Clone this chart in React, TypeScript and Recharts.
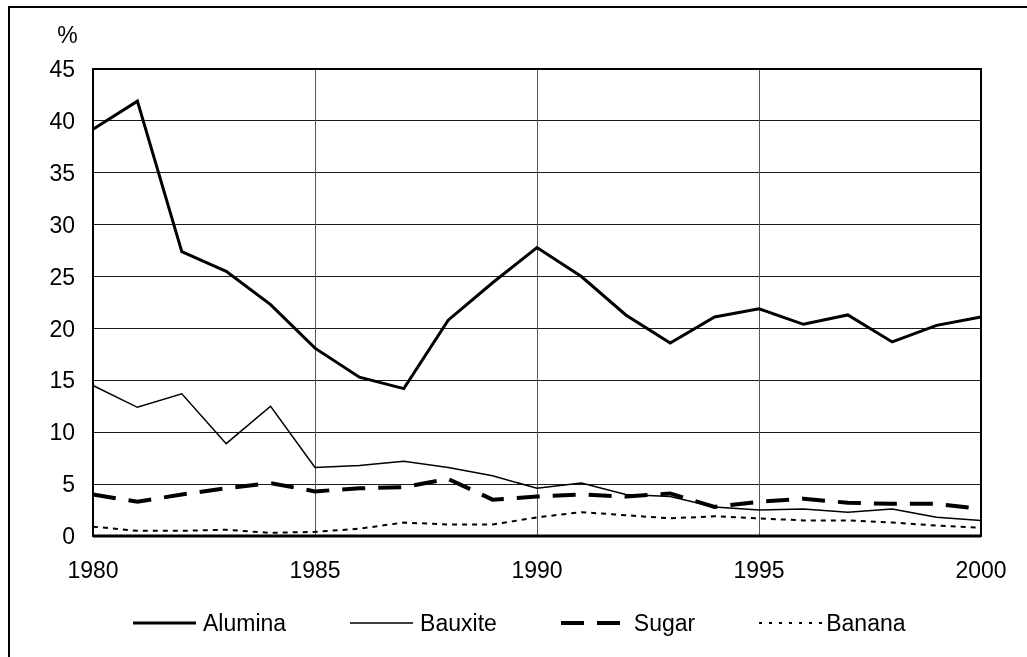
import React from "react";
import {
  LineChart,
  Line,
  XAxis,
  YAxis,
  CartesianGrid,
  ReferenceArea,
  Legend,
} from "recharts";

const years = [
  1980, 1981, 1982, 1983, 1984, 1985, 1986, 1987, 1988, 1989, 1990, 1991,
  1992, 1993, 1994, 1995, 1996, 1997, 1998, 1999, 2000,
];
const alumina = [
  39.2, 41.9, 27.4, 25.5, 22.3, 18.1, 15.3, 14.2, 20.8, 24.4, 27.8, 25.0,
  21.3, 18.6, 21.1, 21.9, 20.4, 21.3, 18.7, 20.3, 21.1,
];
const bauxite = [
  14.5, 12.4, 13.7, 8.9, 12.5, 6.6, 6.8, 7.2, 6.6, 5.8, 4.6, 5.1, 4.0, 3.8,
  2.8, 2.5, 2.6, 2.3, 2.6, 1.8, 1.5,
];
const sugar = [
  4.0, 3.3, 4.0, 4.6, 5.1, 4.3, 4.6, 4.7, 5.5, 3.5, 3.8, 4.0, 3.8, 4.1, 2.8,
  3.3, 3.6, 3.2, 3.1, 3.1, 2.6,
];
const banana = [
  0.9, 0.5, 0.5, 0.6, 0.3, 0.4, 0.7, 1.3, 1.1, 1.1, 1.8, 2.3, 2.0, 1.7, 1.9,
  1.7, 1.5, 1.5, 1.3, 1.0, 0.8,
];
const xTicks = [1980, 1985, 1990, 1995, 2000];
const yTicks = [0, 5, 10, 15, 20, 25, 30, 35, 40, 45];

const FONT = "'Liberation Sans', Arial, sans-serif";

const data = years.map((year, i) => ({
  year,
  Alumina: alumina[i],
  Bauxite: bauxite[i],
  Sugar: sugar[i],
  Banana: banana[i],
}));

// legend swatches, same styles as the series
const legendItems = [
  { name: "Alumina", width: 3, dash: undefined, gap: 7 },
  { name: "Bauxite", width: 1.5, dash: undefined, gap: 7 },
  { name: "Sugar", width: 4, dash: "23 13", gap: 10 },
  { name: "Banana", width: 2, dash: "3 7", gap: 4 },
];

function ChartLegend() {
  return (
    <div
      style={{
        display: "flex",
        alignItems: "center",
        height: 40,
        paddingLeft: 125,
        fontFamily: FONT,
        fontSize: 23,
        color: "#000",
      }}
    >
      {legendItems.map((item, i) => (
        <div
          key={item.name}
          style={{
            display: "flex",
            alignItems: "center",
            marginRight: i < legendItems.length - 1 ? 64 : 0,
          }}
        >
          <svg width={63} height={10} style={{ marginRight: item.gap }}>
            <line
              x1={0}
              y1={5}
              x2={63}
              y2={5}
              stroke="#000"
              strokeWidth={item.width}
              strokeDasharray={item.dash}
            />
          </svg>
          <span>{item.name}</span>
        </div>
      ))}
    </div>
  );
}

export default function App() {
  return (
    <div style={{ position: "relative", width: 1000, height: 640 }}>
      <div
        style={{
          position: "fixed",
          top: 6,
          left: 8,
          right: 0,
          bottom: 0,
          borderTop: "2px solid #000",
          borderLeft: "2px solid #000",
          pointerEvents: "none",
        }}
      />
      <LineChart
        width={1000}
        height={640}
        data={data}
        margin={{ top: 61, right: 27, left: 0, bottom: 5 }}
        style={{ fontFamily: FONT }}
      >
        <CartesianGrid
          vertical={false}
          stroke="#1a1a1a"
          strokeWidth={1}
          shapeRendering="crispEdges"
        />
        <CartesianGrid
          horizontal={false}
          stroke="#555"
          strokeWidth={1}
          shapeRendering="crispEdges"
        />
        <XAxis
          dataKey="year"
          type="number"
          domain={[1980, 2000]}
          ticks={xTicks}
          tickLine={false}
          tickSize={0}
          tickMargin={26}
          height={67}
          axisLine={{ stroke: "#000", strokeWidth: 3 }}
          tick={{ fill: "#000", fontSize: 23, fontFamily: FONT }}
          interval={0}
        />
        <YAxis
          type="number"
          domain={[0, 45]}
          ticks={yTicks}
          width={85}
          tickLine={false}
          tickSize={0}
          tickMargin={18}
          axisLine={{ stroke: "#000", strokeWidth: 2 }}
          tick={{ fill: "#000", fontSize: 23, fontFamily: FONT }}
          interval={0}
          label={{
            value: "%",
            position: "top",
            offset: 26,
            dx: 17,
            fill: "#000",
            fontSize: 23,
            fontFamily: FONT,
          }}
        />
        <ReferenceArea
          x1={1980}
          x2={2000}
          y1={0}
          y2={45}
          fill="none"
          stroke="#000"
          strokeWidth={2}
          ifOverflow="visible"
        />
        <Legend
          verticalAlign="bottom"
          height={40}
          content={() => <ChartLegend />}
          wrapperStyle={{ left: 0, width: 1000 }}
        />
        <Line
          dataKey="Alumina"
          stroke="#000"
          strokeWidth={3}
          dot={false}
          activeDot={false}
          isAnimationActive={false}
        />
        <Line
          dataKey="Bauxite"
          stroke="#000"
          strokeWidth={1.5}
          dot={false}
          activeDot={false}
          isAnimationActive={false}
        />
        <Line
          dataKey="Sugar"
          stroke="#000"
          strokeWidth={4}
          strokeDasharray="23 13"
          dot={false}
          activeDot={false}
          isAnimationActive={false}
        />
        <Line
          dataKey="Banana"
          stroke="#000"
          strokeWidth={2}
          strokeDasharray="5 5"
          dot={false}
          activeDot={false}
          isAnimationActive={false}
        />
      </LineChart>
    </div>
  );
}
